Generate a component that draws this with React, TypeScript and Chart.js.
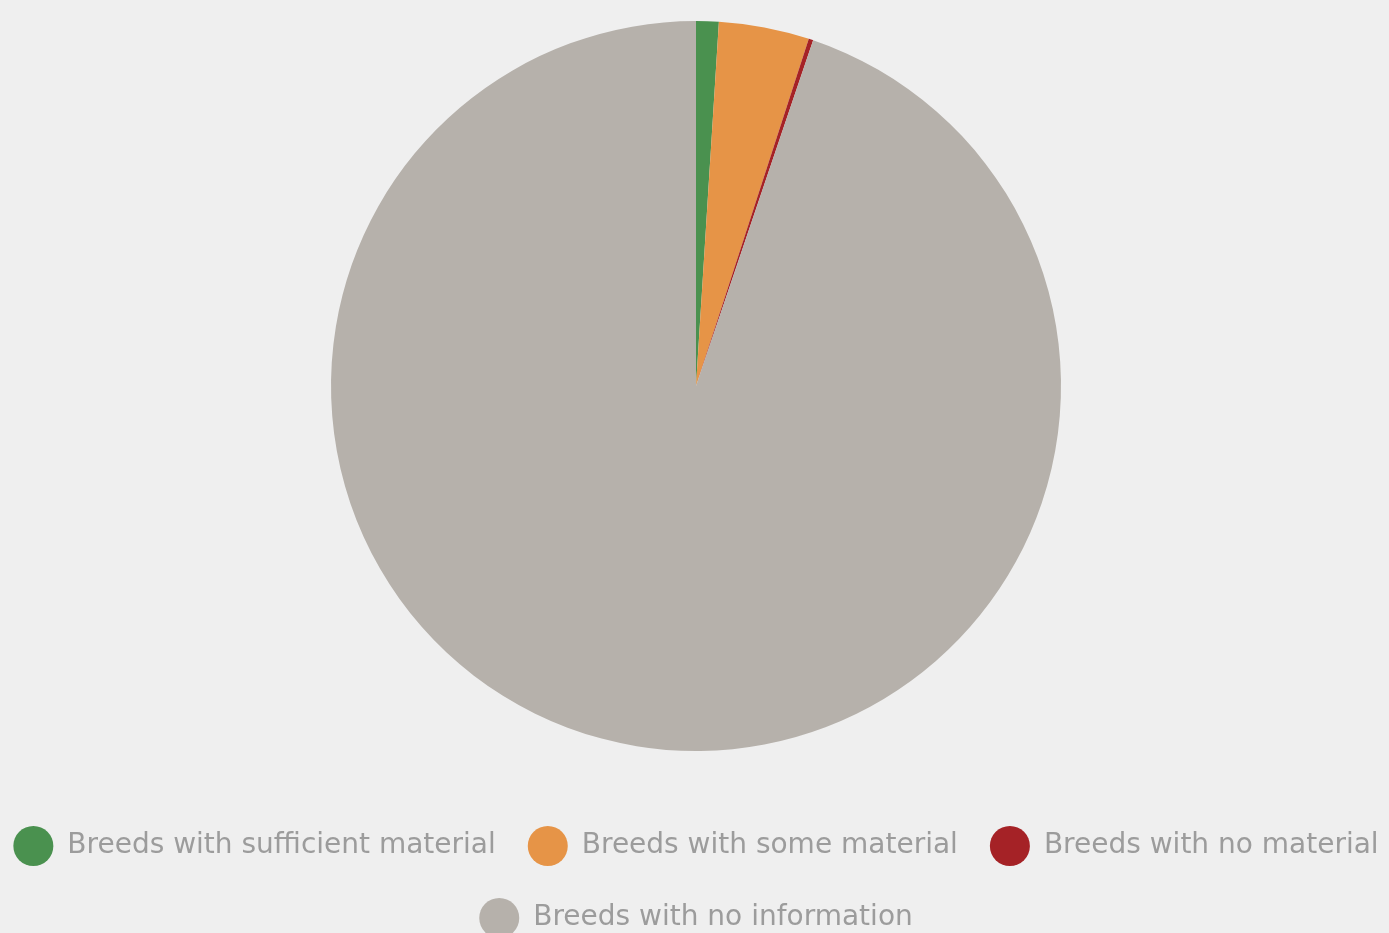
import React, { useEffect, useRef } from "react";
import { Chart, registerables } from "chart.js";

Chart.register(...registerables);

const categories = [
  "Breeds with sufficient material",
  "Breeds with some material",
  "Breeds with no material",
  "Breeds with no information",
];
const shares = [1.0, 4.0, 0.2, 94.8];
const sliceColors = ["#4a914f", "#e69447", "#a52226", "#b6b1ab"];

const BG = "#efefef";
const TEXT = "#9c9c9c";

export default function App() {
  const ref = useRef<HTMLCanvasElement | null>(null);

  useEffect(() => {
    document.documentElement.style.background = BG;
    document.documentElement.style.overflow = "hidden";
    document.body.style.background = BG;
    if (!ref.current) return;
    const chart = new Chart(ref.current, {
      type: "pie",
      data: {
        labels: categories,
        datasets: [
          {
            data: shares,
            backgroundColor: sliceColors,
            borderWidth: 0,
            hoverOffset: 0,
            offset: 0,
            radius: 365,
          } as any,
        ],
      },
      options: {
        responsive: false,
        animation: false,
        layout: { padding: { top: 13, bottom: 0, left: 0, right: 0 } },
        plugins: {
          tooltip: { enabled: false },
          legend: {
            position: "bottom",
            title: {
              display: true,
              text: "",
              font: { size: 20, lineHeight: 1 },
              padding: { top: 23, bottom: 0 },
            },
            labels: {
              boxWidth: 40,
              boxHeight: 40,
              padding: 32,
              color: TEXT,
              font: { family: "DejaVu Sans", size: 28 },
              generateLabels: () =>
                categories.map((t, i) => ({
                  text: t,
                  fillStyle: sliceColors[i],
                  strokeStyle: sliceColors[i],
                  lineWidth: 0,
                  hidden: false,
                  index: i,
                  borderRadius: 20,
                  fontColor: TEXT,
                })) as any,
            },
          },
        },
      },
    });
    return () => chart.destroy();
  }, []);

  return (
    <div style={{ position: "relative", width: "100%", height: 940, overflow: "hidden" }}>
      <div style={{ position: "absolute", left: -62, top: 0, width: 1500, height: 940 }}>
        <canvas ref={ref} width={1500} height={940} style={{ display: "block" }} />
      </div>
    </div>
  );
}
